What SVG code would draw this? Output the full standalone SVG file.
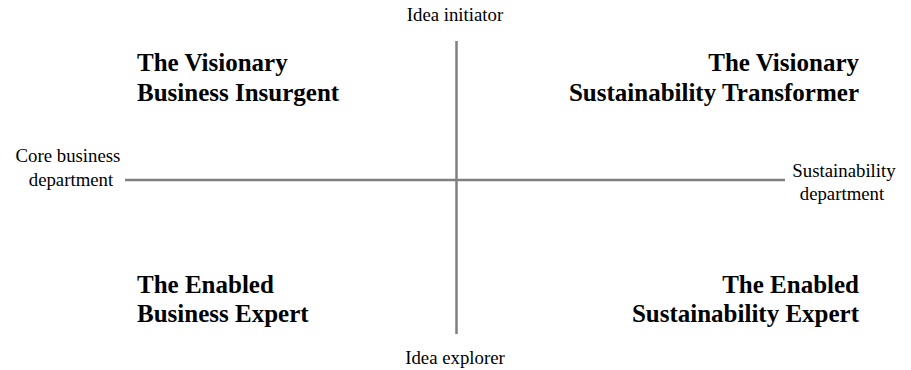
<svg xmlns="http://www.w3.org/2000/svg" width="911" height="370" viewBox="0 0 911 370">
<style>
.axis{stroke:#7f7f7f;stroke-width:2.5;fill:none}
.lbl{font-family:"Liberation Serif","Times New Roman",serif;font-size:18.8px;fill:#000}
.ttl{font-family:"Liberation Serif","Times New Roman",serif;font-size:25px;font-weight:bold;fill:#000}
</style>
<rect width="911" height="370" fill="#fff"/>
<g id="connectors">
<line class="axis" x1="456.5" y1="41" x2="456.5" y2="334"/>
<line class="axis" x1="125" y1="180" x2="785" y2="180"/>
</g>
<g id="idea-initiator"><text class="lbl" x="455" y="21" text-anchor="middle">Idea initiator</text></g>
<g id="idea-explorer"><text class="lbl" x="455" y="364" text-anchor="middle">Idea explorer</text></g>
<g id="core-business"><text class="lbl" text-anchor="middle"><tspan x="68" y="162">Core business</tspan><tspan x="71" y="186">department</tspan></text></g>
<g id="sustainability-dept"><text class="lbl" text-anchor="middle"><tspan x="844" y="177">Sustainability</tspan><tspan x="842" y="200">department</tspan></text></g>
<g id="visionary-insurgent"><text class="ttl"><tspan x="137" y="71">The Visionary</tspan><tspan x="137" y="101">Business Insurgent</tspan></text></g>
<g id="visionary-transformer"><text class="ttl" text-anchor="end"><tspan x="859" y="71">The Visionary</tspan><tspan x="859" y="101">Sustainability Transformer</tspan></text></g>
<g id="enabled-business"><text class="ttl"><tspan x="137" y="293">The Enabled</tspan><tspan x="137" y="322">Business Expert</tspan></text></g>
<g id="enabled-sustainability"><text class="ttl" text-anchor="end"><tspan x="859" y="293">The Enabled</tspan><tspan x="859" y="322">Sustainability Expert</tspan></text></g>
</svg>
